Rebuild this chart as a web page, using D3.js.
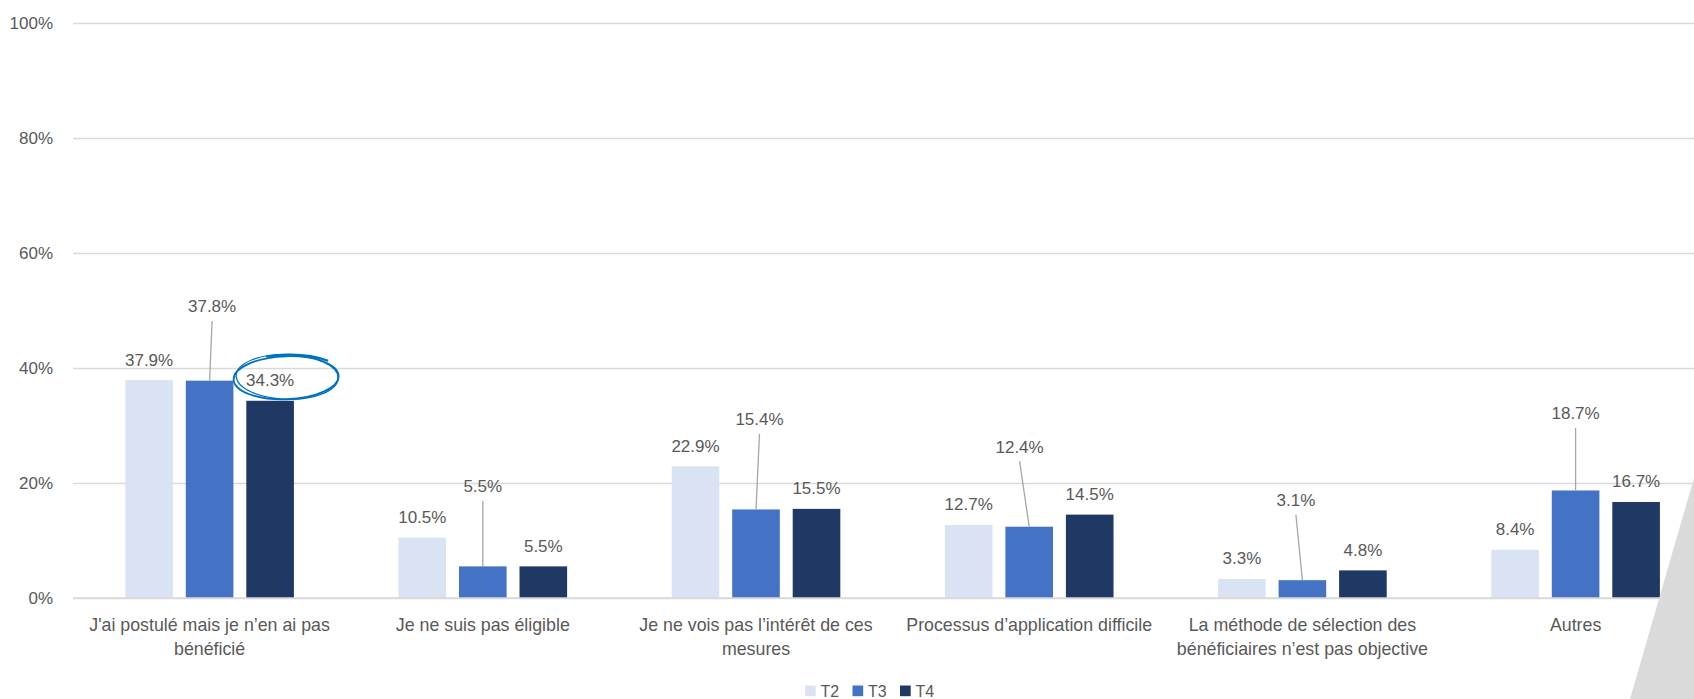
<!DOCTYPE html>
<html>
<head>
<meta charset="utf-8">
<script src="https://cdn.jsdelivr.net/npm/d3@7"></script>
<style>
  body { margin: 0; background: #fff; overflow: hidden; }
  text { font-family: "Liberation Sans", Arial, sans-serif; fill: #595959; }
</style>
</head>
<body>
<script>
// categories (line breaks where the original wraps)
var categories = [
  "J'ai postulé mais je n’en ai pas\nbénéficié",
  "Je ne suis pas éligible",
  "Je ne vois pas l’intérêt de ces\nmesures",
  "Processus d’application difficile",
  "La méthode de sélection des\nbénéficiaires n’est pas objective",
  "Autres"
];
var series = ["T2", "T3", "T4"];
var t2 = [37.9, 10.5, 22.9, 12.7, 3.3, 8.4];
var t3 = [37.8, 5.5, 15.4, 12.4, 3.1, 18.7];
var t4 = [34.3, 5.5, 15.5, 14.5, 4.8, 16.7];
var yTicks = [0, 20, 40, 60, 80, 100];

// T3 labels were dragged up with leader lines (label height in % units, x shift in px)
var t3LabelAt = [50.7, 19.4, 31.1, 26.3, 17.0, 32.1];
var t3LabelDx = [2.5, 0, 3.5, -9.6, -6.5, 0];

var colors = { T2: "#dae3f3", T3: "#4472c4", T4: "#203864" };
var values = { T2: t2, T3: t3, T4: t4 };

var w = 1694;
var h = 699;
var left = 73;
var band = 273.2;

var svg = d3.select("body")
  .append("svg")
  .attr("width", w)
  .attr("height", h);

var x0 = d3.scaleBand()
  .domain(d3.range(categories.length))
  .range([left, left + band * categories.length])
  .padding(0);

var x1 = d3.scaleBand()
  .domain(series)
  .range([0, x0.bandwidth()])
  .paddingInner(0.213)
  .paddingOuter(0.864);

var y = d3.scaleLinear()
  .domain([0, 100])
  .range([598, 23]);

// gridlines + y labels
var yAxis = d3.axisLeft(y)
  .tickValues(yTicks)
  .tickSize(-(w - left))
  .tickFormat(function(d) { return d + "%"; });

var gy = svg.append("g")
  .attr("transform", "translate(" + left + ",0)")
  .call(yAxis);
gy.select(".domain").remove();
gy.selectAll(".tick line")
  .attr("stroke", "#d9d9d9")
  .attr("stroke-width", 1.3);
gy.selectAll(".tick text")
  .attr("x", -20)
  .attr("font-size", "17px")
  .attr("fill", "#595959")
  .attr("font-family", "Liberation Sans, Arial, sans-serif");

// bars
var groups = svg.selectAll("g.cat")
  .data(categories)
  .enter()
  .append("g")
  .attr("class", "cat")
  .attr("transform", function(d, i) { return "translate(" + x0(i) + ",0)"; });

groups.selectAll("rect")
  .data(function(d, i) {
    return series.map(function(s) { return { s: s, v: values[s][i], i: i }; });
  })
  .enter()
  .append("rect")
  .attr("x", function(d) { return x1(d.s); })
  .attr("y", function(d) { return y(d.v); })
  .attr("width", x1.bandwidth())
  .attr("height", function(d) { return y(0) - y(d.v); })
  .attr("fill", function(d) { return colors[d.s]; });

// redraw the zero line above the bars
svg.append("line")
  .attr("x1", left).attr("x2", w)
  .attr("y1", y(0)).attr("y2", y(0))
  .attr("stroke", "#d9d9d9")
  .attr("stroke-width", 1.3);

function fmt(v) { return v.toFixed(1) + "%"; }

// T2 and T4 labels sit right on top
groups.selectAll("text.val")
  .data(function(d, i) {
    return ["T2", "T4"].map(function(s) { return { s: s, v: values[s][i] }; });
  })
  .enter()
  .append("text")
  .attr("class", "val")
  .attr("x", function(d) { return x1(d.s) + x1.bandwidth() / 2; })
  .attr("y", function(d) { return y(d.v) - 20.5; })
  .attr("dy", "0.35em")
  .attr("text-anchor", "middle")
  .attr("font-size", "17px")
  .text(function(d) { return fmt(d.v); });

// T3 labels with leader lines
groups.each(function(d, i) {
  var g = d3.select(this);
  var bx = x1("T3") + x1.bandwidth() / 2;
  var lx = bx + t3LabelDx[i];
  var ly = y(t3LabelAt[i]);
  g.append("line")
    .attr("x1", lx).attr("y1", ly + 14.5)
    .attr("x2", bx).attr("y2", y(t3[i]))
    .attr("stroke", "#a6a6a6")
    .attr("stroke-width", 1.3);
  g.append("text")
    .attr("x", lx)
    .attr("y", ly)
    .attr("dy", "0.35em")
    .attr("text-anchor", "middle")
    .attr("font-size", "17px")
    .text(fmt(t3[i]));
});

// category labels
groups.append("text")
  .attr("x", x0.bandwidth() / 2)
  .attr("text-anchor", "middle")
  .attr("font-size", "17.8px")
  .each(function(d) {
    var lines = d.split("\n");
    var t = d3.select(this);
    lines.forEach(function(l, k) {
      t.append("tspan")
        .attr("x", x0.bandwidth() / 2)
        .attr("y", 625 + k * 23.3)
        .attr("dy", "0.35em")
        .text(l);
    });
  });

// hand drawn circle round the 34.3% label
var cx = x0(0) + x1("T4") + x1.bandwidth() / 2 + 16;
var cy = y(t4[0]) - 23;
var circ = svg.append("g").attr("fill", "none").attr("stroke", "#0070c0");
circ.append("ellipse")
  .attr("cx", cx).attr("cy", cy)
  .attr("rx", 52.5).attr("ry", 21.5)
  .attr("stroke-width", 1.8)
  .attr("transform", "rotate(-2," + cx + "," + cy + ")");
circ.append("ellipse")
  .attr("cx", cx + 1).attr("cy", cy - 1)
  .attr("rx", 51).attr("ry", 22.5)
  .attr("stroke-width", 1.2)
  .attr("transform", "rotate(1.5," + cx + "," + cy + ")");
circ.append("path")
  .attr("d", "M" + (cx - 20) + "," + (cy - 21) + " Q" + (cx + 15) + "," + (cy - 27) + " " + (cx + 42) + "," + (cy - 17))
  .attr("stroke-width", 2.2);

// legend
var legend = svg.selectAll("g.leg")
  .data(series)
  .enter()
  .append("g")
  .attr("class", "leg")
  .attr("transform", function(d, i) { return "translate(" + (805 + i * 47.5) + ",685.5)"; });

legend.append("rect")
  .attr("width", 10.7)
  .attr("height", 10.7)
  .attr("fill", function(d) { return colors[d]; });

legend.append("text")
  .attr("x", 15.5)
  .attr("y", 5.4)
  .attr("dy", "0.35em")
  .attr("font-size", "16px")
  .text(function(d) { return d; });

// grey slide decoration bottom right
svg.append("polygon")
  .attr("points", "1694,478 1630,699 1694,699")
  .attr("fill", "#dadada");
</script>
</body>
</html>
